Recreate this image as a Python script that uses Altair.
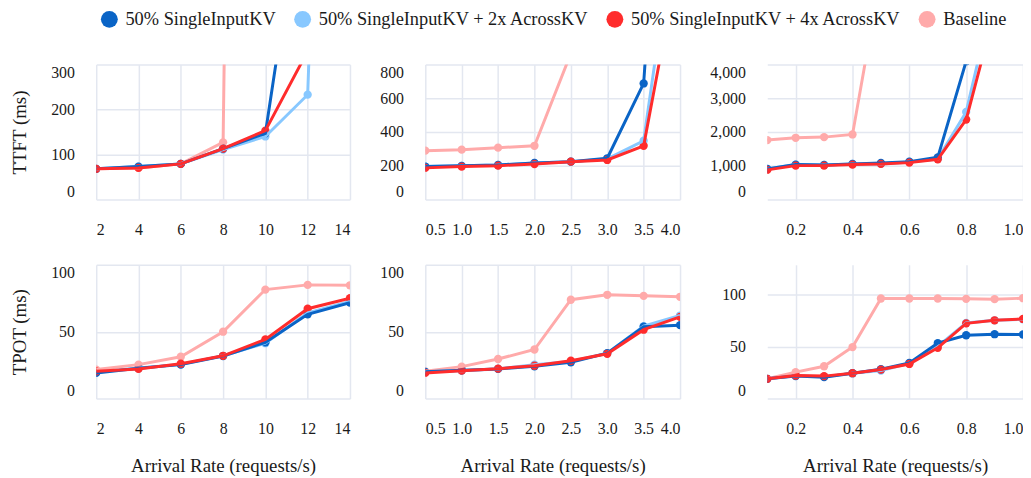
import altair as alt
import pandas as pd

SERIES = ["50% SingleInputKV", "50% SingleInputKV + 2x AcrossKV",
          "50% SingleInputKV + 4x AcrossKV", "Baseline"]
COLORS = ["#0A64C6", "#88C8FF", "#FF2C2C", "#FFAAAA"]
DRAW_ORDER = [3, 1, 0, 2]  # baseline at the bottom, red on top

FONT = "Liberation Serif"
TEXT = "#1a1a1a"
GRID = "#E3E7F0"

# ---- x values (arrival rate, requests/s) ----
rate_a = [2, 4, 6, 8, 10, 12, 14]
rate_b = [0.5, 1.0, 1.5, 2.0, 2.5, 3.0, 3.5, 4.0]
rate_c = [0.1, 0.2, 0.3, 0.4, 0.5, 0.6, 0.7, 0.8, 0.9, 1.0]

# ---- TTFT (ms) ----
ttft_a_single = [68, 73, 79, 113, 147, 770]
ttft_a_2x = [68, 73, 79, 111, 140, 233, 2900]
ttft_a_4x = [68, 70, 79, 113, 153, 330, 1200]
ttft_a_base = [68, 70, 79, 127, 7000]

ttft_b_single = [195, 199, 204, 216, 224, 244, 688, 3800]
ttft_b_2x = [195, 199, 204, 216, 224, 240, 348, 1855]
ttft_b_4x = [187, 195, 200, 210, 224, 234, 318, 1466]
ttft_b_base = [289, 295, 307, 318, 866]

ttft_c_single = [904, 1032, 1022, 1052, 1081, 1120, 1248, 4100]
ttft_c_2x = [904, 1032, 1022, 1052, 1052, 1110, 1199, 2595, 6200]
ttft_c_4x = [875, 1002, 1002, 1032, 1052, 1091, 1189, 2369, 5570]
ttft_c_base = [1759, 1828, 1848, 1926, 6700]

# ---- TPOT (ms) ----
tpot_a_single = [19.2, 22.7, 25.4, 31.8, 42.1, 63.0, 71.7]
tpot_a_2x = [19.7, 22.9, 25.6, 32.0, 41.4, 64.0, 72.7]
tpot_a_4x = [20.4, 22.2, 26.1, 32.0, 44.3, 67.2, 75.1]
tpot_a_base = [21.7, 25.4, 31.3, 50.0, 81.5, 85.0, 84.7]

tpot_b_single = [20.0, 21.2, 22.2, 24.1, 27.1, 34.0, 53.7, 54.9]
tpot_b_2x = [20.0, 20.9, 22.2, 25.4, 27.8, 34.0, 54.2, 62.1]
tpot_b_4x = [19.2, 20.9, 22.4, 24.6, 28.3, 33.5, 51.5, 61.1]
tpot_b_base = [20.4, 23.9, 29.6, 36.7, 73.9, 77.6, 76.8, 76.1]

tpot_c_single = [19.1, 21.7, 20.7, 24.5, 28.3, 34.4, 53.5, 61.1, 62.1, 61.8]
tpot_c_2x = [19.1, 22.0, 21.2, 24.5, 27.1, 34.1, 50.3, 72.9, 75.5, 76.4]
tpot_c_4x = [19.1, 22.3, 21.7, 24.5, 28.0, 33.4, 49.0, 72.6, 75.5, 76.8]
tpot_c_base = [19.1, 25.5, 31.2, 49.7, 96.5, 96.5, 96.5, 96.2, 95.9, 96.8]


def panel(xs, vals, xdomain, xticks, xfmt, ydomain, yticks, yfmt,
          ytitle, xtitle, w, h):
    rows = []
    for idx in DRAW_ORDER:
        for x, v in zip(xs, vals[idx]):
            rows.append({"rate": x, "ms": v, "series": SERIES[idx]})
    df = pd.DataFrame(rows)
    xaxis = alt.Axis(values=xticks, format=xfmt, title=xtitle)
    yaxis = alt.Axis(values=yticks, format=yfmt, title=ytitle)
    x = alt.X("rate:Q", scale=alt.Scale(domain=xdomain, nice=False, zero=False), axis=xaxis)
    y = alt.Y("ms:Q", scale=alt.Scale(domain=ydomain, nice=False), axis=yaxis)
    color = alt.Color("series:N",
                      scale=alt.Scale(domain=SERIES, range=COLORS),
                      legend=alt.Legend(title=None, symbolType="circle",
                                        labelFont=FONT, labelFontSize=18.5))
    base = alt.Chart(df).encode(x=x, y=y, color=color)
    pts = base.mark_point(filled=True, size=70, opacity=1, clip=True)
    line = base.mark_line(strokeWidth=3, clip=True)
    return alt.layer(pts, line).properties(width=w, height=h)


p1 = panel(rate_a, [ttft_a_single, ttft_a_2x, ttft_a_4x, ttft_a_base],
           [2, 14], rate_a, "d", [0, 300], [0, 100, 200, 300], "d",
           "TTFT (ms)", None, 256, 136)
p2 = panel(rate_b, [ttft_b_single, ttft_b_2x, ttft_b_4x, ttft_b_base],
           [0.5, 4.0], rate_b, ".1f", [0, 800], [0, 200, 400, 600, 800], "d",
           None, None, 257, 136)
p3 = panel(rate_c, [ttft_c_single, ttft_c_2x, ttft_c_4x, ttft_c_base],
           [0.1, 1.0], [0.2, 0.4, 0.6, 0.8, 1.0], ".1f", [0, 4000],
           [0, 1000, 2000, 3000, 4000], ",.0f",
           None, None, 258, 136)
p4 = panel(rate_a, [tpot_a_single, tpot_a_2x, tpot_a_4x, tpot_a_base],
           [2, 14], rate_a, "d", [0, 100], [0, 50, 100], "d",
           "TPOT (ms)", "Arrival Rate (requests/s)", 256, 135)
p5 = panel(rate_b, [tpot_b_single, tpot_b_2x, tpot_b_4x, tpot_b_base],
           [0.5, 4.0], rate_b, ".1f", [0, 100], [0, 50, 100], "d",
           None, "Arrival Rate (requests/s)", 257, 135)
p6 = panel(rate_c, [tpot_c_single, tpot_c_2x, tpot_c_4x, tpot_c_base],
           [0.1, 1.0], [0.2, 0.4, 0.6, 0.8, 1.0], ".1f", [0, 129], [0, 50, 100], "d",
           None, "Arrival Rate (requests/s)", 258, 135)

chart = alt.concat(p1, p2, p3, p4, p5, p6, columns=3,
                   spacing={"row": 28, "column": 30}).properties(
    padding={"left": 3, "top": 0, "right": 0, "bottom": 0})

chart = chart.configure(font=FONT).configure_view(stroke=None).configure_axis(
    grid=True, gridColor=GRID, gridWidth=1.5, domain=False, ticks=False, tickSize=0,
    labelFont=FONT, labelFontSize=16, labelColor=TEXT, labelPadding=22,
    labelFlush=True, labelOverlap=False,
    titleFont=FONT, titleFontSize=19, titleFontWeight="normal", titleColor=TEXT,
    titlePadding=21,
).configure_legend(
    orient="none", legendX=4, legendY=-55, direction="horizontal",
    labelFont=FONT, labelFontSize=18.5, labelColor=TEXT, labelLimit=0,
    symbolSize=290, symbolStrokeWidth=0, symbolOpacity=1,
    labelOffset=7, columnPadding=17,
)

chart.save("out.html", embed_options={"renderer": "svg", "actions": False})
